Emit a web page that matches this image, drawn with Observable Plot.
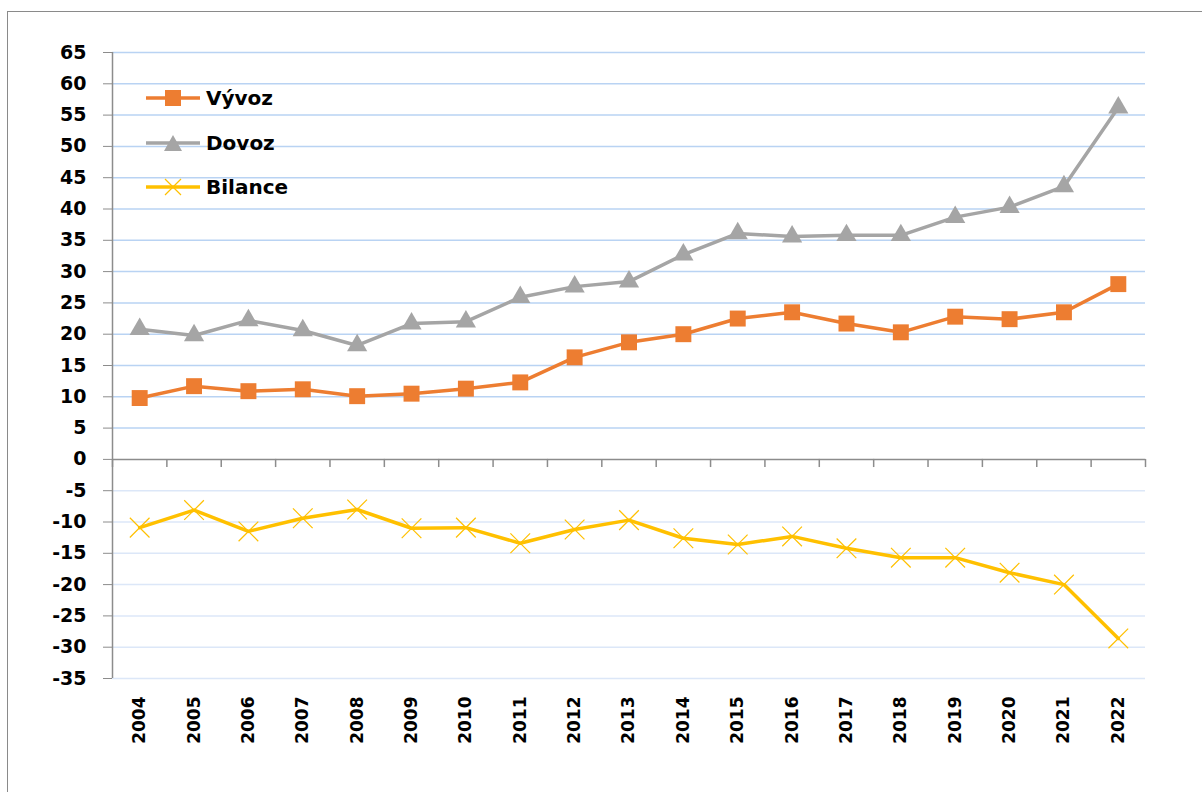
<!DOCTYPE html>
<html><head><meta charset="utf-8">
<script src="https://cdn.jsdelivr.net/npm/d3@7"></script>
<script src="https://cdn.jsdelivr.net/npm/@observablehq/plot@0.6"></script>
<style>
body{margin:0;background:#fff;width:1202px;height:792px;overflow:hidden;position:relative;font-family:"DejaVu Sans",sans-serif;}
#frame{position:absolute;left:7px;top:11px;width:1200px;height:800px;border:1.5px solid #8a8a8a;}
#chart{position:absolute;left:0;top:0;}
#legend{position:absolute;left:146px;top:76px;}
.item{display:flex;align-items:center;height:44.5px;font-weight:bold;font-size:20px;color:#000;}
.item svg{margin-right:6px;}
</style></head><body>
<div id="frame"></div><div id="chart"></div><div id="legend"></div>
<script>
const years = [2004,2005,2006,2007,2008,2009,2010,2011,2012,2013,2014,2015,2016,2017,2018,2019,2020,2021,2022];
const vyvoz = [9.8,11.7,10.9,11.2,10.1,10.5,11.3,12.3,16.3,18.7,20.0,22.5,23.5,21.7,20.3,22.8,22.4,23.5,28.0];
const dovoz = [20.8,19.8,22.2,20.6,18.2,21.7,22.0,25.9,27.6,28.4,32.7,36.1,35.6,35.8,35.8,38.7,40.3,43.6,56.2];
const bilance = [-10.9,-8.1,-11.5,-9.4,-8.0,-11.0,-10.9,-13.4,-11.2,-9.7,-12.6,-13.6,-12.3,-14.2,-15.7,-15.7,-18.1,-20.0,-28.6];
const yTicks = [-35,-30,-25,-20,-15,-10,-5,0,5,10,15,20,25,30,35,40,45,50,55,60,65];
const seriesNames = ["Vývoz", "Dovoz", "Bilance"];
const colors = ["#ED7D31", "#A5A5A5", "#FFC000"];

const rows = years.map((y, i) => ({year: y, vyvoz: vyvoz[i], dovoz: dovoz[i], bilance: bilance[i]}));
const x0 = years[0] - 0.5, x1 = years[years.length - 1] + 0.5;
const bounds = years.map(y => y - 0.5).concat([x1]);
const axisGray = "#8c8c8c";

const chart = Plot.plot({
  width: 1202, height: 792,
  marginLeft: 112, marginRight: 57, marginTop: 52, marginBottom: 114,
  style: {fontFamily: "DejaVu Sans", fontWeight: "bold", fontSize: "17px", color: "#000", background: "transparent"},
  x: {domain: [x0, x1]},
  y: {domain: [-35, 65]},
  marks: [
    Plot.ruleY(yTicks.filter(v => v > 0), {stroke: "#b9d3f3", strokeWidth: 1.5}),
    Plot.ruleY(yTicks.filter(v => v < 0), {stroke: "#dce7f8", strokeWidth: 1.5}),
    Plot.ruleY([0], {stroke: axisGray, strokeWidth: 1.5}),
    Plot.ruleX([x0], {stroke: axisGray, strokeWidth: 1.5}),
    Plot.ruleX(bounds, {y1: 0, y2: -1.3, stroke: axisGray, strokeWidth: 1.5}),
    Plot.axisY({ticks: yTicks, tickSize: 9, tickPadding: 17, stroke: axisGray, label: null, fontSize: 19, fontWeight: "bold", fill: "#000", tickFormat: d => String(d)}),
    Plot.axisX({ticks: years, tickSize: 0, tickRotate: -90, tickPadding: 18, label: null, fontSize: 17, fontWeight: "bold", fill: "#000", tickFormat: d => String(d)}),
    Plot.line(rows, {x: "year", y: "vyvoz", stroke: colors[0], strokeWidth: 3.5}),
    Plot.dot(rows, {x: "year", y: "vyvoz", symbol: "square", fill: colors[0], r: 9}),
    Plot.line(rows, {x: "year", y: "dovoz", stroke: colors[1], strokeWidth: 3.5}),
    Plot.dot(rows, {x: "year", y: "dovoz", symbol: "triangle", fill: colors[1], r: 7.5}),
    Plot.line(rows, {x: "year", y: "bilance", stroke: colors[2], strokeWidth: 3.5}),
    Plot.dot(rows, {x: "year", y: "bilance", symbol: "times", stroke: colors[2], strokeWidth: 1.2, r: 9})
  ]
});
document.getElementById("chart").appendChild(chart);

// legend
const markers = [
  c => `<rect x="19" y="2" width="16" height="16" fill="${c}"/>`,
  c => `<polygon points="27,2 36,18 18,18" fill="${c}"/>`,
  c => `<path d="M19,2L35,18M35,2L19,18" stroke="${c}" stroke-width="1.2"/>`
];
const leg = document.getElementById("legend");
seriesNames.forEach((name, i) => {
  const div = document.createElement("div");
  div.className = "item";
  div.innerHTML = `<svg width="54" height="20"><line x1="0" x2="54" y1="10" y2="10" stroke="${colors[i]}" stroke-width="3.5"/>${markers[i](colors[i])}</svg><span>${name}</span>`;
  leg.appendChild(div);
});
</script>
</body></html>
